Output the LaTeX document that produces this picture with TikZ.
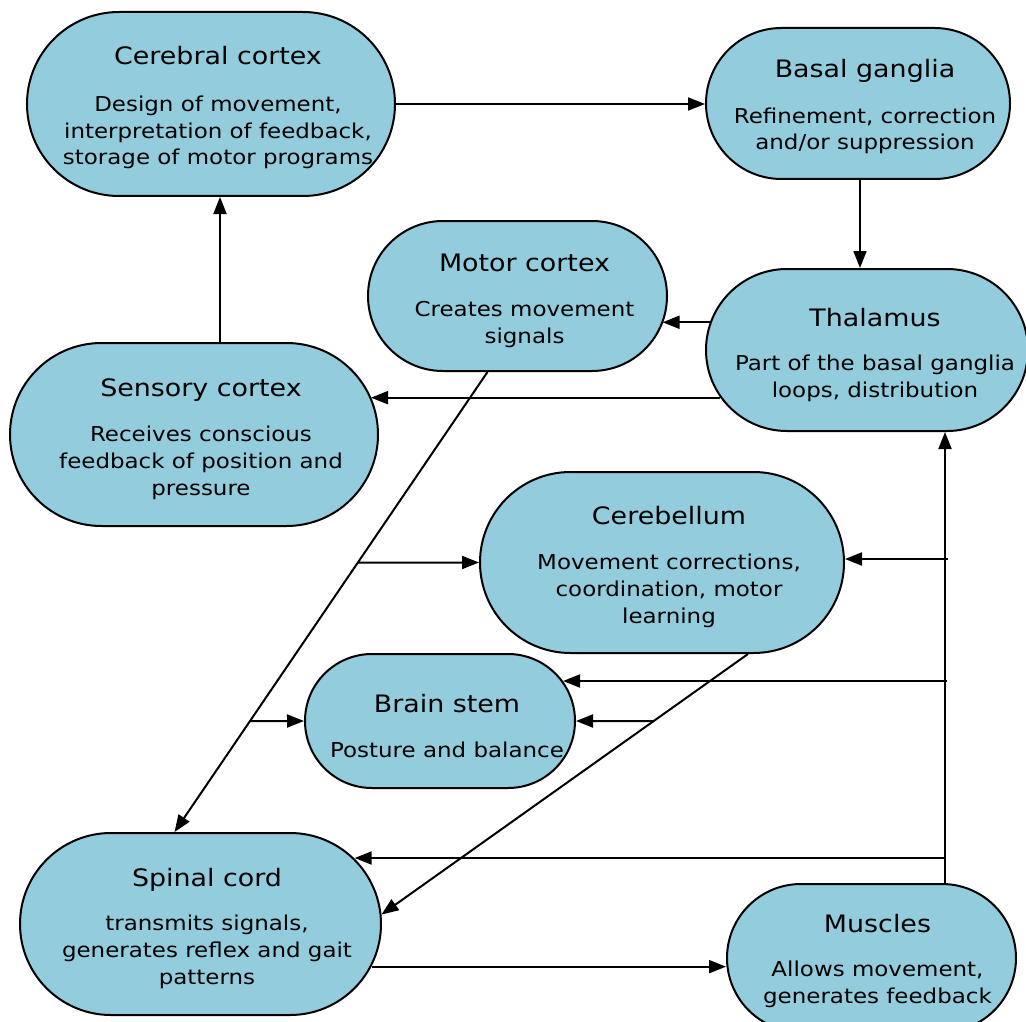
\documentclass[tikz,border=0pt]{standalone}
\usepackage{fontspec}
\setmainfont{DejaVu Sans}[FakeStretch=1.12]
\usetikzlibrary{arrows.meta,shapes.misc,calc}
\definecolor{boxblue}{RGB}{147,205,221}
\begin{document}
\begin{tikzpicture}[x=1pt,y=-1pt,
  box/.style={rounded rectangle, draw=black, fill=boxblue, line width=2pt, inner sep=0pt},
  ttl/.style={anchor=base, inner sep=0pt, font=\fontsize{24}{29}\selectfont},
  bdy/.style={anchor=base, inner sep=0pt, align=center, font=\fontsize{20.5}{27}\selectfont},
  arr/.style={line width=2pt, -{Triangle[length=17pt,width=13pt]}}]
\useasboundingbox (0,0) rectangle (1026,1022);

% boxes
\node[box, minimum width=368pt, minimum height=184pt] (cc) at (211,104) {};
\node[box, minimum width=304pt, minimum height=151pt] (bg) at (858,103.5) {};
\node[box, minimum width=299pt, minimum height=150pt] (mc) at (517.5,296) {};
\node[box, minimum width=322pt, minimum height=162pt] (th) at (867,350) {};
\node[box, minimum width=368pt, minimum height=183pt] (sc) at (194,434.5) {};
\node[box, minimum width=364pt, minimum height=181pt] (cb) at (662,562.5) {};
\node[box, minimum width=270pt, minimum height=134pt] (bs) at (440,721) {};
\node[box, minimum width=361pt, minimum height=182pt] (sp) at (200.5,924) {};
\node[box, minimum width=289pt, minimum height=148pt] (mu) at (871.5,958) {};

% labels (body nodes sit on the baseline of their last line)
\node[ttl] (cc-t) at (218,65) {Cerebral cortex};
\node[bdy] (cc-b) at (218,165) {Design of movement,\\interpretation of feedback,\\storage of motor programs};
\node[ttl] (bg-t) at (865,78) {Basal ganglia};
\node[bdy] (bg-b) at (865,150) {Refinement, correction\\and/or suppression};
\node[ttl] (mc-t) at (524.5,271) {Motor cortex};
\node[bdy] (mc-b) at (524.5,343) {Creates movement\\signals};
\node[ttl] (th-t) at (875,326) {Thalamus};
\node[bdy] (th-b) at (875,397) {Part of the basal ganglia\\loops, distribution};
\node[ttl] (sc-t) at (201,396) {Sensory cortex};
\node[bdy] (sc-b) at (201,495) {Receives conscious\\feedback of position and\\pressure};
\node[ttl] (cb-t) at (669,524) {Cerebellum};
\node[bdy] (cb-b) at (669,623) {Movement corrections,\\coordination, motor\\learning};
\node[ttl] (bs-t) at (447,712) {Brain stem};
\node[bdy] (bs-b) at (447,757) {Posture and balance};
\node[ttl] (sp-t) at (207,886) {Spinal cord};
\node[bdy] (sp-b) at (207,984) {transmits signals,\\generates reflex and gait\\patterns};
\node[ttl] (mu-t) at (877.5,932) {Muscles};
\node[bdy] (mu-b) at (877.5,1003) {Allows movement,\\generates feedback};

% connectors
\draw[arr] (cc.east) -- (cc.east -| bg.west);
\coordinate (b0) at ($(bg.south)+(2,0)$);
\draw[arr] (b0) -- (b0 |- th.north);
\coordinate (s0) at ($(sc.north)+(26,0)$);
\draw[arr] (s0) -- (s0 |- cc.south);
\draw[arr] (th.170) -- (th.170 -| mc.349);
\draw[arr] (th.198) -- (th.198 -| sc.12);

\coordinate (m1) at ($(mc.south)+(-30,0)$);
\coordinate (s1) at ($(sp.north)+(-26,0)$);
\draw[arr] (m1) -- (s1);
\draw[arr] (intersection of m1--s1 and cb.west--cb.east) -- (cb.west);
\draw[arr] (intersection of m1--s1 and bs.west--bs.east) -- (bs.west);

\coordinate (c1) at ($(cb.south)+(86,0)$);
\draw[arr] (c1) -- (sp.3);
\draw[arr] (intersection of c1--sp.3 and bs.west--bs.east) -- (bs.east);

\coordinate (v0) at ($(mu.north)+(73.5,0)$);
\draw[arr] (v0) -- (v0 |- th.south);
\coordinate (f1) at (948,559);
\draw[arr] (f1) -- (f1 -| cb.east);
\coordinate (f2) at (947,681);
\draw[arr] (f2) -- (f2 -| bs.18);
\coordinate (f3) at (945,858);
\draw[arr] (f3) -- (f3 -| sp.23);
\draw[arr] (sp.346) -- (sp.346 -| mu.west);
\end{tikzpicture}
\end{document}
